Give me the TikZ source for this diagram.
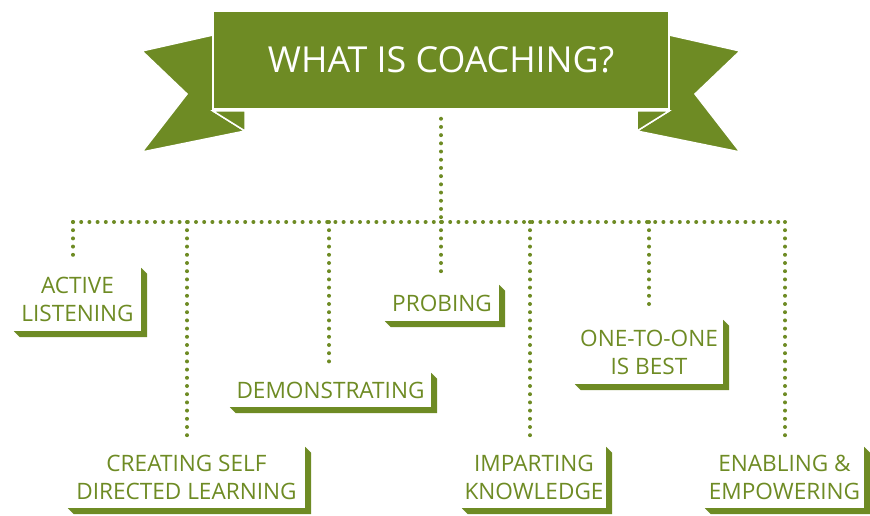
\documentclass[tikz,border=0pt]{standalone}
\usepackage{fontspec}
\setmainfont{Open Sans}
\definecolor{leaf}{RGB}{110,139,36}
% L-shaped shadow under the right and bottom edge of a tag
\newcommand{\tagshadow}[1]{%
  \fill[leaf] (#1.north east) -- ++(6,6) -- ([shift={(6,6)}]#1.south east)
    -- ([shift={(6,6)}]#1.south west) -- (#1.south west) -- (#1.south east) -- cycle;}

\begin{document}
\begin{tikzpicture}[x=1pt, y=-1pt,
    ribbon/.style={fill=leaf, draw=white, line width=1.5pt, line join=miter},
    title/.style={ribbon, minimum width=456pt, minimum height=98pt, inner sep=0pt, text=white, font=\fontsize{35.8}{42}\selectfont},
    tag/.style={align=center, text=leaf, inner sep=0pt, font=\fontsize{22.6}{28}\selectfont},
    dotline/.style={leaf, line width=4pt, line cap=round, dash pattern=on 0pt off 8.2pt}]
    \useasboundingbox (0,0) rectangle (870,516);
    % Ribbon tails and folds
    \fill[ribbon] (142,51) -- (213,35) -- (213,111) -- (245,131) -- (142,152) -- (187,94) -- cycle;
    \fill[ribbon] (740,51) -- (669,35) -- (669,111) -- (637,131) -- (740,152) -- (695,94) -- cycle;
    \filldraw[ribbon] (213,111) -- (245,111) -- (245,131) -- cycle;
    \filldraw[ribbon] (669,111) -- (637,111) -- (637,131) -- cycle;
    % Title
    \node[title] (title) at (441,60) {WHAT IS COACHING?};
    % Tags
    \node[tag, minimum width=127pt, minimum height=63pt] (listening) at (77.5,299.5) {ACTIVE\\LISTENING};
    \node[tag, minimum width=237pt, minimum height=61pt] (selfdir) at (186.5,477.5) {CREATING SELF\\DIRECTED LEARNING};
    \node[tag, minimum width=201pt, minimum height=34pt] (demo) at (330.5,390) {DEMONSTRATING};
    \node[tag, minimum width=114pt, minimum height=36pt] (probing) at (442,303) {PROBING};
    \node[tag, minimum width=144pt, minimum height=61pt] (impart) at (534,477.5) {IMPARTING\\KNOWLEDGE};
    \node[tag, minimum width=148pt, minimum height=64pt] (onetoone) at (649,352) {ONE-TO-ONE\\IS BEST};
    \node[tag, minimum width=159pt, minimum height=61pt] (enabling) at (784.5,477.5) {ENABLING \&\\EMPOWERING};
    \foreach \n in {listening,selfdir,demo,probing,impart,onetoone,enabling}
        \tagshadow{\n};
    % Dotted connectors
    \coordinate (hub) at (441,222);
    \coordinate (rail west) at (73,222);
    \coordinate (rail east) at (785,222);
    \draw[dotline, shorten <=9pt] (title.south) -- (hub);
    \draw[dotline] (rail west) -- (rail east);
    \foreach \x/\n in {73/listening,187/selfdir,329/demo,441/probing,530/impart,649/onetoone,785/enabling} {
        \coordinate (j-\n) at (\x,222);
        \draw[dotline, shorten >=8pt] (j-\n) -- (j-\n |- \n.north);
    }
\end{tikzpicture}
\end{document}
